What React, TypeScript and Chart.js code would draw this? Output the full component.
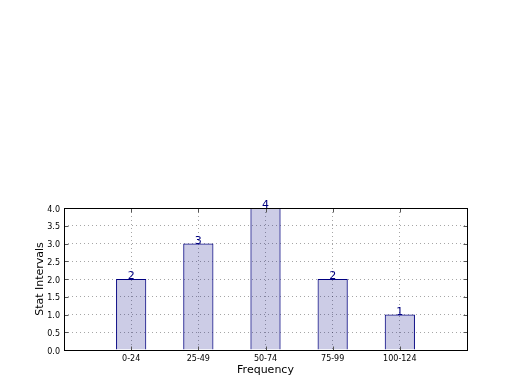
import React, { useEffect, useRef } from "react";
import { Chart, registerables } from "chart.js";

Chart.register(...registerables);

const categories = ["0-24", "25-49", "50-74", "75-99", "100-124"];
const counts = [2, 3, 4, 2, 1];
const yTicks = [0, 0.5, 1, 1.5, 2, 2.5, 3, 3.5, 4];

const NAVY = "#000080";
const FONT = "'DejaVu Sans', sans-serif";

const framePlugin = {
  id: "frame",
  afterDatasetsDraw(chart: any) {
    const ctx = chart.ctx;
    const meta = chart.getDatasetMeta(0);
    ctx.save();
    ctx.fillStyle = NAVY;
    ctx.font = `11px ${FONT}`;
    ctx.textAlign = "center";
    ctx.textBaseline = "alphabetic";
    meta.data.forEach((bar: any, i: number) => {
      ctx.fillText(String(counts[i]), bar.x, bar.y);
    });
    ctx.restore();
  },
  afterDraw(chart: any) {
    const { ctx, chartArea: a, scales } = chart;
    const L = Math.round(a.left) + 0.5;
    const R = Math.round(a.right) + 0.5;
    const T = Math.round(a.top) + 0.5;
    const B = Math.round(a.bottom) + 0.5;
    ctx.save();
    ctx.strokeStyle = "#555";
    ctx.lineWidth = 1;
    ctx.beginPath();
    scales.y.ticks.forEach((t: any) => {
      const py = Math.round(scales.y.getPixelForValue(t.value)) + 0.5;
      ctx.moveTo(L, py);
      ctx.lineTo(L + 4, py);
      ctx.moveTo(R, py);
      ctx.lineTo(R - 4, py);
    });
    scales.x.ticks.forEach((t: any) => {
      const px = Math.round(scales.x.getPixelForValue(t.value)) + 0.5;
      ctx.moveTo(px, B);
      ctx.lineTo(px, B - 4);
      ctx.moveTo(px, T);
      ctx.lineTo(px, T + 4);
    });
    ctx.stroke();
    ctx.strokeStyle = "#000";
    ctx.strokeRect(L, T, R - L, B - T);
    ctx.restore();
  },
};

export default function App() {
  const ref = useRef<HTMLCanvasElement | null>(null);
  useEffect(() => {
    document.body.style.margin = "0";
    const canvas = ref.current!;
    const chart = new Chart(canvas, {
      type: "bar",
      data: {
        datasets: [
          {
            data: counts.map((v, i) => ({ x: i, y: v })),
            backgroundColor: "rgba(0,0,128,0.2)",
            borderColor: NAVY,
            borderWidth: 1,
            barPercentage: 0.45,
            categoryPercentage: 1,
          },
        ],
      },
      options: {
        animation: false,
        responsive: false,
        maintainAspectRatio: false,
        layout: { padding: { top: 208, right: 53, left: 0, bottom: 0 } },
        plugins: { legend: { display: false }, tooltip: { enabled: false } },
        scales: {
          x: {
            type: "linear",
            min: -1,
            max: categories.length,
            offset: false,
            z: 1,
            afterFit: (s: any) => {
              s.height = 40;
            },
            afterBuildTicks: (s: any) => {
              s.ticks = [-1, ...categories.map((_, i) => i), categories.length].map((v) => ({ value: v }));
            },
            grid: { color: "rgba(0,0,0,0.35)", lineWidth: 1, drawTicks: false, offset: false },
            border: { display: false, dash: [1, 3] },
            ticks: {
              autoSkip: false,
              maxRotation: 0,
              padding: 4,
              color: "#000",
              font: { family: FONT, size: 8 },
              callback: (v: any) => categories[v] ?? "",
            },
            title: {
              display: true,
              text: "Frequency",
              color: "#000",
              font: { family: FONT, size: 11 },
              padding: { top: 0, bottom: 13 },
            },
          },
          y: {
            min: 0,
            max: 4,
            z: 1,
            afterFit: (s: any) => {
              s.width = 64;
            },
            afterBuildTicks: (s: any) => {
              s.ticks = yTicks.map((v) => ({ value: v }));
            },
            grid: { color: "rgba(0,0,0,0.35)", lineWidth: 1, drawTicks: false },
            border: { display: false, dash: [1, 3] },
            ticks: {
              padding: 4,
              labelOffset: 1.5,
              color: "#000",
              font: { family: FONT, size: 8 },
              callback: (v: any) => Number(v).toFixed(1),
            },
            title: {
              display: true,
              text: "Stat Intervals",
              color: "#000",
              font: { family: FONT, size: 11 },
              padding: { top: 34, bottom: 0 },
            },
          },
        },
      },
      plugins: [framePlugin],
    });
    return () => chart.destroy();
  }, []);
  return (
    <div style={{ width: 520, height: 390 }}>
      <canvas ref={ref} width={520} height={390} style={{ display: "block" }} />
    </div>
  );
}
